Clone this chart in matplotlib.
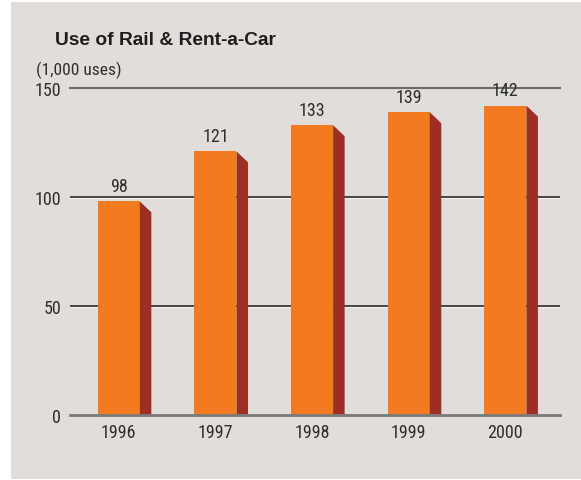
import matplotlib.pyplot as plt
import matplotlib.patches as patches

years = ['1996', '1997', '1998', '1999', '2000']
uses = [98, 121, 133, 139, 142]
y_ticks = [0, 50, 100, 150]

title = 'Use of Rail & Rent-a-Car'
unit_label = '(1,000 uses)'

front_color = '#F47A20'
side_color = '#9B2F21'
panel_color = '#E1DDDA'
text_color = '#2E2E2E'

# condensed face for the small labels, like the original
narrow = ['Roboto Condensed', 'Archivo Narrow', 'Liberation Sans', 'DejaVu Sans']

W, H = 581, 481
fig = plt.figure(figsize=(W / 100, H / 100), dpi=100)
fig.patch.set_facecolor('white')

# grey panel behind everything
fig.patches.append(patches.Rectangle((11 / W, 1 / H), 1 - 11 / W, (H - 4) / H,
                                     transform=fig.transFigure, facecolor=panel_color,
                                     edgecolor='none', zorder=-5))

ax = fig.add_axes([70 / W, (H - 415.7) / H, 490 / W, 326.4 / H])
ax.set_facecolor('none')
for s in ax.spines.values():
    s.set_visible(False)

xs = list(range(len(years)))
ax.set_xlim(-0.505, 4.565)
ax.set_ylim(0, 150)

# grid lines, behind the bars
for t in y_ticks:
    if t == 0:
        ax.axhline(t, color='#7A7A7A', lw=2.0, zorder=4, clip_on=False)
    elif t == 150:
        ax.axhline(t, color='#6A6A6A', lw=1.5, zorder=1, clip_on=False)
    else:
        ax.axhline(t - 0.5, color='#F2F0EE', lw=1.0, zorder=1)
        ax.axhline(t, color='#3A3A3A', lw=1.3, zorder=1)

bw = 0.435   # front face width
sw = 0.119   # side face width
drop = 5.0   # slant of the side's top edge

ax.bar(xs, uses, width=bw, color=front_color, zorder=3, linewidth=0)
for x, v in zip(xs, uses):
    xr = x + bw / 2
    side = patches.Polygon([(xr, v), (xr + sw, v - drop), (xr + sw, 0), (xr, 0)],
                           closed=True, facecolor=side_color, edgecolor='none', zorder=3)
    ax.add_patch(side)
    ax.annotate(str(v), (x, v), xytext=(0, 4.5), textcoords='offset points',
                ha='center', va='bottom', fontsize=13, color=text_color,
                family=narrow, zorder=5)

ax.set_yticks(y_ticks)
ax.set_yticklabels([str(t) for t in y_ticks], family=narrow, fontsize=13, color=text_color)
ax.set_xticks(xs)
ax.set_xticklabels(years, family=narrow, fontsize=13, color=text_color)
ax.tick_params(axis='both', length=0)
ax.tick_params(axis='y', pad=6.5)
ax.tick_params(axis='x', pad=6.0)

fig.text(55 / W, 1 - 45 / H, title, fontsize=13.8, fontweight='bold',
         family=['Liberation Sans', 'DejaVu Sans'], color='#1E1E1E', ha='left', va='baseline')
fig.text(36 / W, 1 - 70 / H, unit_label, fontsize=12.5, family=narrow,
         color=text_color, ha='left', va='center')

fig.savefig('out.png', dpi=100, facecolor=fig.get_facecolor())
